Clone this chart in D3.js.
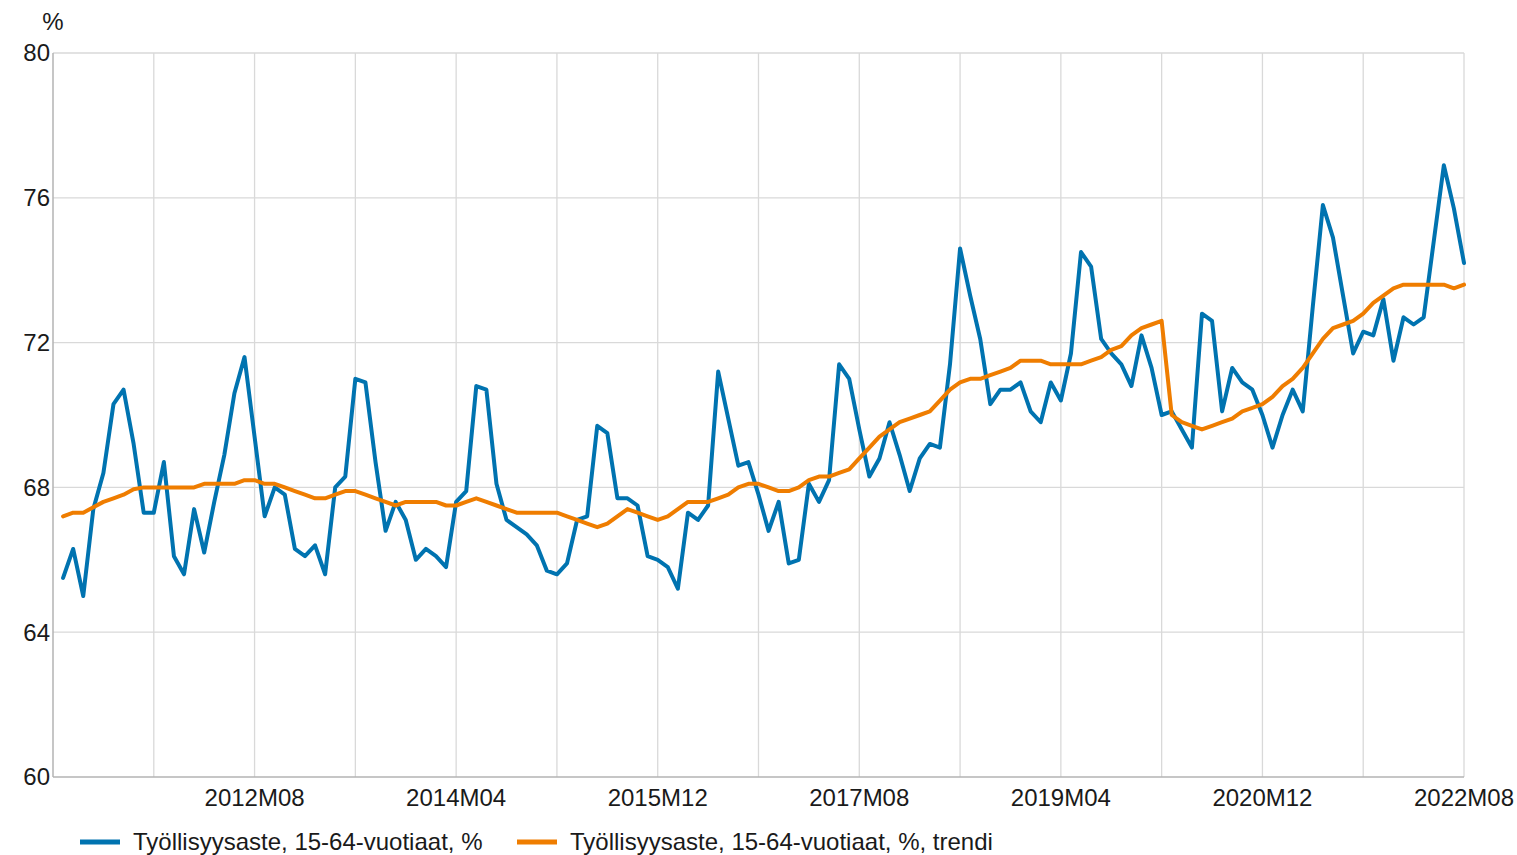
<!DOCTYPE html>
<html><head><meta charset="utf-8">
<script src="https://cdn.jsdelivr.net/npm/d3@7"></script>
<style>body{margin:0;background:#fff;} svg{display:block;font-family:"Liberation Sans",Arial,sans-serif;}</style>
</head><body>
<svg id="c" width="1517" height="855"></svg>
<script>
const startYear = 2011, startMonth = 1; // first observation 2011M01
const seriesNames = ["Työllisyysaste, 15-64-vuotiaat, %", "Työllisyysaste, 15-64-vuotiaat, %, trendi"];
const actual = [65.5,66.3,65.0,67.4,68.4,70.3,70.7,69.2,67.3,67.3,
68.7,66.1,65.6,67.4,66.2,67.6,68.9,70.6,71.6,69.4,
67.2,68.0,67.8,66.3,66.1,66.4,65.6,68.0,68.3,71.0,
70.9,68.7,66.8,67.6,67.1,66.0,66.3,66.1,65.8,67.6,
67.9,70.8,70.7,68.1,67.1,66.9,66.7,66.4,65.7,65.6,
65.9,67.1,67.2,69.7,69.5,67.7,67.7,67.5,66.1,66.0,
65.8,65.2,67.3,67.1,67.5,71.2,69.9,68.6,68.7,67.8,
66.8,67.6,65.9,66.0,68.1,67.6,68.2,71.4,71.0,69.6,
68.3,68.8,69.8,68.9,67.9,68.8,69.2,69.1,71.4,74.6,
73.3,72.1,70.3,70.7,70.7,70.9,70.1,69.8,70.9,70.4,
71.7,74.5,74.1,72.1,71.7,71.4,70.8,72.2,71.3,70.0,
70.1,69.6,69.1,72.8,72.6,70.1,71.3,70.9,70.7,70.0,
69.1,70.0,70.7,70.1,73.0,75.8,74.9,73.3,71.7,72.3,
72.2,73.2,71.5,72.7,72.5,72.7,74.8,76.9,75.7,74.2];
const trend = [67.2,67.3,67.3,67.45,67.6,67.7,67.8,67.95,68.0,68.0,
68.0,68.0,68.0,68.0,68.1,68.1,68.1,68.1,68.2,68.2,
68.1,68.1,68.0,67.9,67.8,67.7,67.7,67.8,67.9,67.9,
67.8,67.7,67.6,67.5,67.6,67.6,67.6,67.6,67.5,67.5,
67.6,67.7,67.6,67.5,67.4,67.3,67.3,67.3,67.3,67.3,
67.2,67.1,67.0,66.9,67.0,67.2,67.4,67.3,67.2,67.1,
67.2,67.4,67.6,67.6,67.6,67.7,67.8,68.0,68.1,68.1,
68.0,67.9,67.9,68.0,68.2,68.3,68.3,68.4,68.5,68.8,
69.1,69.4,69.6,69.8,69.9,70.0,70.1,70.4,70.7,70.9,
71.0,71.0,71.1,71.2,71.3,71.5,71.5,71.5,71.4,71.4,
71.4,71.4,71.5,71.6,71.8,71.9,72.2,72.4,72.5,72.6,
70.0,69.8,69.7,69.6,69.7,69.8,69.9,70.1,70.2,70.3,
70.5,70.8,71.0,71.3,71.7,72.1,72.4,72.5,72.6,72.8,
73.1,73.3,73.5,73.6,73.6,73.6,73.6,73.6,73.5,73.6];
const yTicks = [60,64,68,72,76,80];
const xTickLabels = ["2012M08","2014M04","2015M12","2017M08","2019M04","2020M12","2022M08"];
const colors = ["#0073b0","#ef7d00"];

const svg = d3.select("#c");
const L = 53, R = 1464, T = 53, B = 777;
// month index: 0 = 2011M01; axis begins one month earlier (2010M12)
const x = d3.scaleLinear().domain([-1, actual.length - 1]).range([L, R]);
const y = d3.scaleLinear().domain([60, 80]).range([B, T]);
const label = i => { const t = (startYear*12 + startMonth - 1) + i; const yr = Math.floor(t/12), mo = t%12 + 1; return yr + "M" + String(mo).padStart(2,"0"); };

// grid
const g = svg.append("g");
const vTicks = d3.range(9, actual.length, 10);
g.selectAll("line.v").data(vTicks).join("line")
  .attr("x1", d => x(d)).attr("x2", d => x(d)).attr("y1", T).attr("y2", B)
  .attr("stroke", "#d9d9d9").attr("stroke-width", 1.3);
g.selectAll("line.h").data(yTicks.filter(d => d > 60)).join("line")
  .attr("x1", L).attr("x2", R).attr("y1", d => y(d)).attr("y2", d => y(d))
  .attr("stroke", "#d9d9d9").attr("stroke-width", 1.3);
// axes lines
g.append("line").attr("x1", L).attr("x2", L).attr("y1", T).attr("y2", B).attr("stroke", "#b3b3b3").attr("stroke-width", 1.5);
g.append("line").attr("x1", L).attr("x2", R).attr("y1", B).attr("y2", B).attr("stroke", "#b3b3b3").attr("stroke-width", 1.5);

// y labels
svg.append("g").selectAll("text").data(yTicks).join("text")
  .attr("x", L - 3).attr("y", d => y(d)).attr("dy", "0.35em").attr("text-anchor", "end")
  .attr("font-size", 24).attr("fill", "#1a1a1a").text(d => d);
svg.append("text").attr("x", 53).attr("y", 30).attr("text-anchor", "middle").attr("font-size", 24).attr("fill", "#1a1a1a").text("%");

// x labels
const labelIdx = vTicks.filter(d => xTickLabels.includes(label(d)));
svg.append("g").selectAll("text").data(labelIdx).join("text")
  .attr("x", d => x(d)).attr("y", 806).attr("text-anchor", "middle")
  .attr("font-size", 24).attr("fill", "#1a1a1a").text(d => label(d));

// lines
const line = d3.line().x((d, i) => x(i)).y(d => y(d));
[actual, trend].forEach((s, k) => {
  svg.append("path").datum(s).attr("d", line).attr("fill", "none")
    .attr("stroke", colors[k]).attr("stroke-width", 4).attr("stroke-linejoin", "round").attr("stroke-linecap", "round");
});

// legend
const legX = [80, 517];
seriesNames.forEach((n, k) => {
  svg.append("line").attr("x1", legX[k]).attr("x2", legX[k] + 40).attr("y1", 842).attr("y2", 842)
    .attr("stroke", colors[k]).attr("stroke-width", 5);
  svg.append("text").attr("x", legX[k] + 53).attr("y", 850).attr("font-size", 24).attr("fill", "#1a1a1a").text(n);
});
</script>
</body></html>
